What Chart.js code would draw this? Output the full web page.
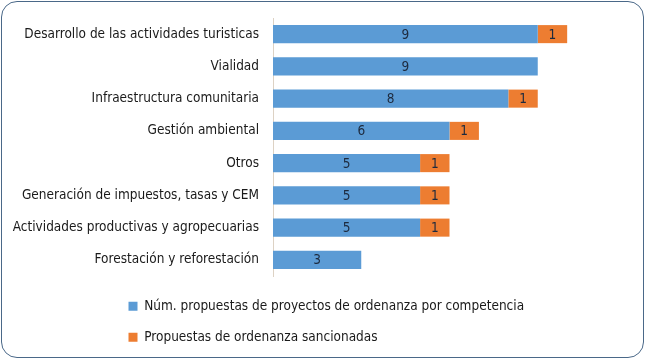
<!DOCTYPE html>
<html>
<head>
<meta charset="utf-8">
<script src="https://cdn.jsdelivr.net/npm/chart.js@4.4.1/dist/chart.umd.min.js"></script>
<style>
  html, body { margin: 0; padding: 0; background: #fff; }
  #wrap { position: relative; width: 645px; height: 359px; }
  #frame {
    position: absolute; left: 1px; top: 1px; width: 641px; height: 355px;
    border: 1px solid #4a6888; border-radius: 16px; pointer-events: none;
  }
</style>
</head>
<body>
<div id="wrap">
  <canvas id="grafico" width="645" height="359"></canvas>
  <div id="frame"></div>
</div>
<script>
const categorias = [
  'Desarrollo de las actividades turisticas',
  'Vialidad',
  'Infraestructura comunitaria',
  'Gestión ambiental',
  'Otros',
  'Generación de impuestos, tasas y CEM',
  'Actividades productivas y agropecuarias',
  'Forestación y reforestación'
];
const propuestas = [9, 9, 8, 6, 5, 5, 5, 3];
const sancionadas = [1, null, 1, 1, 1, 1, 1, null];

const fuente = "'DejaVu Sans Condensed', 'Liberation Sans Narrow', sans-serif";

// valores dentro de cada barra
const etiquetas = {
  id: 'etiquetas',
  afterDatasetsDraw(chart) {
    const c = chart.ctx;
    c.save();
    c.font = '13.5px ' + fuente;
    c.fillStyle = '#1d2a3e';
    c.textAlign = 'center';
    c.textBaseline = 'middle';
    chart.data.datasets.forEach((ds, i) => {
      chart.getDatasetMeta(i).data.forEach((bar, j) => {
        const v = ds.data[j];
        if (v == null) return;
        const p = bar.getCenterPoint();
        c.fillText(v, p.x, p.y + 1);
      });
    });
    c.restore();
  }
};

// leyenda alineada bajo las etiquetas, como en el original
const moverLeyenda = {
  id: 'moverLeyenda',
  afterLayout(chart) {
    chart.legend.left += 101;
    chart.legend.top += 6;
  }
};

document.addEventListener("DOMContentLoaded", function () {
  const ctx = document.getElementById('grafico');

  new Chart(ctx, {
    type: 'bar',
    data: {
      labels: categorias,
      datasets: [
        {
          label: 'Núm. propuestas de proyectos de ordenanza por competencia',
          data: propuestas,
          backgroundColor: '#5b9bd5'
        },
        {
          label: 'Propuestas de ordenanza sancionadas',
          data: sancionadas,
          backgroundColor: '#ed7d31'
        }
      ]
    },
    options: {
      indexAxis: 'y',
      responsive: false,
      animation: false,
      barPercentage: 0.56,
      categoryPercentage: 1,
      layout: { padding: { top: 18, left: 10, right: 19, bottom: 11 } },
      scales: {
        x: {
          stacked: true,
          display: false,
          min: 0,
          max: 12
        },
        y: {
          stacked: true,
          grid: { display: false, drawTicks: false },
          border: { display: true, color: '#ddd2c4' },
          ticks: {
            padding: 14,
            color: '#1a1a1a',
            font: { family: fuente, size: 13.5 }
          },
          afterFit(scale) {
            scale.width = 263;
            scale.paddingTop = 0;
            scale.paddingBottom = 0;
          }
        }
      },
      plugins: {
        tooltip: { enabled: false },
        legend: {
          position: 'bottom',
          align: 'start',
          labels: {
            boxWidth: 9,
            boxHeight: 9,
            padding: 17.5,
            color: '#1a1a1a',
            font: { family: fuente, size: 13.5 }
          }
        }
      }
    },
    plugins: [etiquetas, moverLeyenda]
  });
});
</script>
</body>
</html>
